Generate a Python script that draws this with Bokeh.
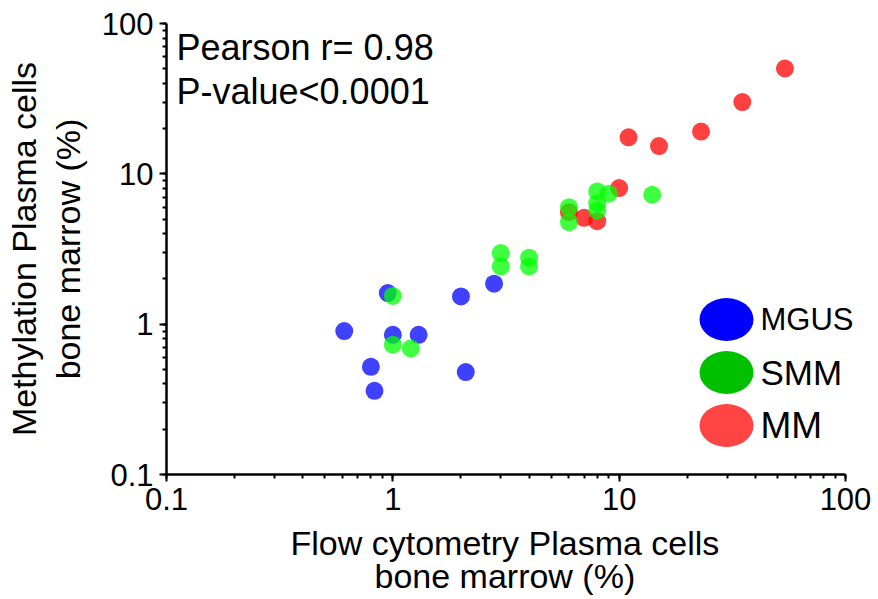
from bokeh.plotting import figure
from bokeh.models import Range1d, LogTicker, CustomJSTickFormatter, Label, Title
from bokeh.embed import file_html
from bokeh.resources import INLINE

# ---- data ----
mgus_flow = [0.95, 0.61, 1.0, 1.3, 0.8, 0.83, 2.1, 2.0, 2.8]
mgus_meth = [1.61, 0.90, 0.85, 0.85, 0.52, 0.36, 0.48, 1.53, 1.86]

smm_flow = [1.0, 1.0, 1.2, 3.0, 3.0, 4.0, 4.0, 6.0, 6.0, 8.0, 8.0, 8.0, 9.0, 14.0]
smm_meth = [1.54, 0.73, 0.69, 2.97, 2.42, 2.77, 2.42, 6.0, 4.77, 7.64, 6.38, 5.7, 7.38, 7.26]

mm_flow = [6.0, 7.0, 8.0, 10.0, 11.0, 15.0, 23.0, 35.0, 54.0]
mm_meth = [5.56, 5.1, 4.84, 8.04, 17.5, 15.3, 19.1, 30.0, 50.2]

group_labels = ["MGUS", "SMM", "MM"]
stats_lines = ["Pearson r= 0.98", "P-value<0.0001"]
x_title_lines = ["Flow cytometry Plasma cells", "bone marrow (%)"]
y_title = "Methylation Plasma cells\nbone marrow (%)"

FONT = "Liberation Sans"
W, H = 878, 599
X0, X1, Y0, Y1 = 166, 845, 23, 474  # axis extents in px (0.1 .. 100)
RIGHT = 870                          # frame right edge (room for legend text)

px_per_decade = (X1 - X0) / 3.0
x_end = 10 ** (2 + (RIGHT - X1) / px_per_decade)

p = figure(width=W, height=H, x_axis_type="log", y_axis_type="log",
           x_range=Range1d(0.1, x_end), y_range=Range1d(0.1, 100),
           output_backend="svg", toolbar_location=None,
           min_border_left=X0, min_border_right=W - RIGHT,
           min_border_top=Y0, min_border_bottom=H - Y1)
p.outline_line_color = None
p.xgrid.visible = False
p.ygrid.visible = False
p.background_fill_color = "white"
p.border_fill_color = "white"

fmt = CustomJSTickFormatter(code="return String(parseFloat(tick.toPrecision(6)));")
for ax in (p.xaxis[0], p.yaxis[0]):
    ax.ticker = LogTicker(mantissas=[1], num_minor_ticks=10)
    ax.formatter = fmt
    ax.bounds = (0.1, 100)
    ax.axis_line_width = 2.5
    ax.axis_line_color = "black"
    ax.major_tick_line_width = 2
    ax.minor_tick_line_width = 2
    ax.major_tick_line_color = "black"
    ax.minor_tick_line_color = "black"
    ax.major_tick_in = 0
    ax.major_tick_out = 7
    ax.minor_tick_in = 0
    ax.minor_tick_out = 4
    ax.major_label_text_font = FONT
    ax.major_label_text_font_size = "31px"
    ax.major_label_text_color = "black"
    ax.major_label_standoff = 6

yax = p.yaxis[0]
yax.axis_label = y_title
yax.axis_label_text_font = FONT
yax.axis_label_text_font_size = "34px"
yax.axis_label_text_font_style = "normal"
yax.axis_label_text_color = "black"
yax.axis_label_text_line_height = 1.15
yax.axis_label_standoff = 12

# x-axis title: two centred lines under the axis span (0.1 .. 100)
for line, left_px, so in zip(x_title_lines, [290, 374], [20, -34]):
    p.add_layout(Title(text=line, text_font=FONT, text_font_size="34px",
                       text_font_style="normal", text_color="black",
                       align="left", offset=left_px - X0, standoff=so,
                       vertical_align="middle"), "below")

# ---- points (blue, red, green drawing order) ----
p.scatter(mgus_flow, mgus_meth, size=18, fill_color="#0000ff", fill_alpha=0.75, line_color=None)
p.scatter(mm_flow, mm_meth, size=18, fill_color="#ff0000", fill_alpha=0.75, line_color=None)
p.scatter(smm_flow, smm_meth, size=18, fill_color="#00ff00", fill_alpha=0.75, line_color=None)

def dx(px):
    return 10 ** (-1 + (px - X0) / px_per_decade)

def dy(py):
    return 10 ** (-1 + 3 * (Y1 - py) / (Y1 - Y0))

# ---- stats text ----
for i, line in enumerate(stats_lines):
    p.add_layout(Label(x=dx(176), y=dy(47 + 44 * i), text=line, text_font=FONT,
                       text_font_size="36px", text_baseline="middle", text_align="left",
                       text_color="black"))

# ---- legend ----
leg_colors = ["#0000ff", "#00c000", "#ff4444"]
leg_sizes = ["31px", "35px", "37px"]
leg_y = [319, 372, 425]
p.ellipse(x=[dx(726)] * 3, y=[dy(v) for v in leg_y], width=54, height=43,
          width_units="screen", height_units="screen",
          fill_color=leg_colors, line_color=None)
for lab, yy, fs in zip(group_labels, leg_y, leg_sizes):
    p.add_layout(Label(x=dx(760), y=dy(yy), text=lab, text_font=FONT,
                       text_font_size=fs, text_baseline="middle", text_align="left",
                       text_color="black"))

open("out.html", "w").write(file_html(p, INLINE))
